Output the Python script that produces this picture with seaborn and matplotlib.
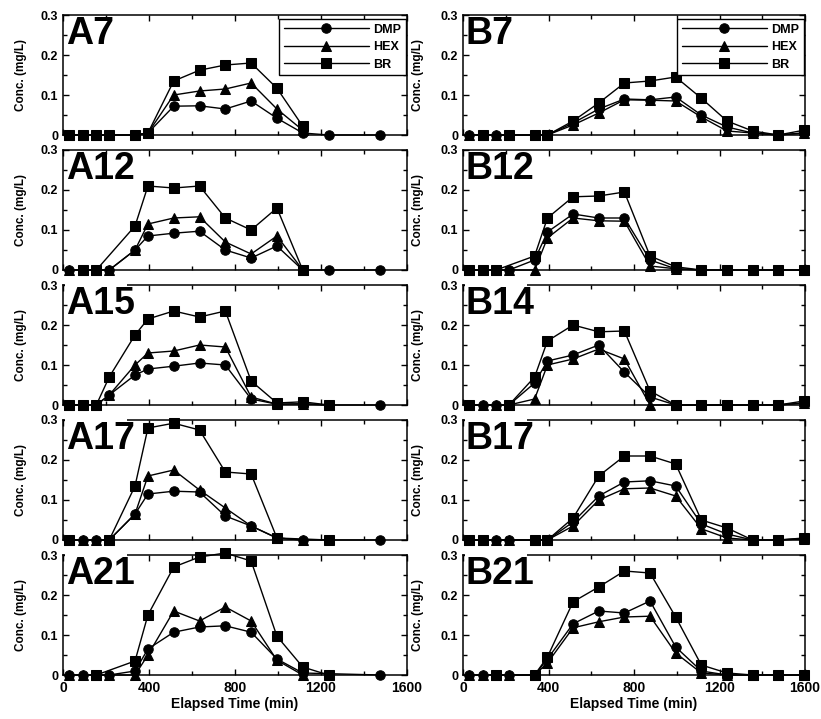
import numpy as np
import pandas as pd
import matplotlib
matplotlib.use('Agg')
import matplotlib.pyplot as plt
from matplotlib.ticker import MultipleLocator
from matplotlib.patches import Rectangle
import seaborn as sns

N = np.nan

# sampling times (min)
times = [30, 95, 155, 215, 335, 395, 515, 635, 755, 875, 995, 1115, 1235, 1355, 1475, 1595]
compounds = ['DMP', 'HEX', 'BR']
marker_of = {'DMP': 'o', 'HEX': '^', 'BR': 's'}

xticks = [0, 400, 800, 1200, 1600]
xtick_labels = ['0', '400', '800', '1200', '1600']
yticks = [0, 0.1, 0.2, 0.3]
ytick_labels = ['0', '0.1', '0.2', '0.3']

# column A
a7_dmp = [0, 0, 0, 0, 0, 0.005, 0.072, 0.073, 0.065, 0.085, 0.042, 0.005, 0, N, 0, N]
a7_hex = [0, 0, 0, 0, 0, 0.005, 0.100, 0.110, 0.115, 0.130, 0.065, 0.012, N, N, N, N]
a7_br = [0, 0, 0, 0, 0, 0.005, 0.135, 0.162, 0.175, 0.180, 0.117, 0.022, N, N, N, N]

a12_dmp = [0, 0, 0, 0, 0.050, 0.085, 0.092, 0.097, 0.050, 0.030, 0.060, 0, 0, N, 0, N]
a12_hex = [0, 0, 0, 0, 0.050, 0.115, 0.130, 0.133, 0.070, 0.040, 0.085, 0, N, N, N, N]
a12_br = [N, 0, 0, N, 0.110, 0.210, 0.205, 0.210, 0.130, 0.100, 0.155, 0, N, N, N, N]

a15_dmp = [0, 0, 0, 0.025, 0.075, 0.090, 0.097, 0.105, 0.100, 0.015, 0.002, 0.003, 0, N, 0, N]
a15_hex = [0, 0, 0, 0.025, 0.100, 0.130, 0.135, 0.150, 0.145, 0.020, 0.002, 0.003, 0, N, N, N]
a15_br = [0, 0, 0, 0.070, 0.175, 0.215, 0.235, 0.220, 0.235, 0.060, 0.005, 0.008, 0, N, N, N]

a17_dmp = [0, 0, 0, 0, 0.065, 0.115, 0.122, 0.120, 0.060, 0.035, 0.005, 0, N, N, 0, N]
a17_hex = [0, 0, 0, 0, 0.065, 0.160, 0.175, 0.125, 0.080, 0.035, 0.005, 0, N, N, N, N]
a17_br = [0, N, N, 0, 0.135, 0.280, 0.292, 0.275, 0.170, 0.165, 0.005, N, 0, N, N, N]

a21_dmp = [0, 0, 0, 0, 0.010, 0.065, 0.107, 0.120, 0.123, 0.107, 0.040, 0.005, N, N, 0, N]
a21_hex = [0, 0, 0, 0, 0, 0.050, 0.160, 0.135, 0.170, 0.135, 0.037, 0, N, N, N, N]
a21_br = [N, N, 0, N, 0.035, 0.150, 0.270, 0.295, 0.305, 0.285, 0.097, 0.020, 0, N, N, N]

# column B
b7_dmp = [0, 0, 0, 0, 0, 0, 0.030, 0.065, 0.090, 0.088, 0.095, 0.050, 0.020, 0.005, 0, 0.005]
b7_hex = [0, 0, 0, 0, 0, 0, 0.025, 0.055, 0.088, 0.087, 0.085, 0.045, 0.010, 0.005, 0, 0.005]
b7_br = [N, 0, N, 0, 0, 0, 0.035, 0.080, 0.130, 0.135, 0.145, 0.092, 0.035, 0.010, 0, 0.012]

b12_dmp = [0, 0, 0, 0, 0.025, 0.095, 0.140, 0.130, 0.130, 0.025, 0.003, 0, 0, 0, 0, 0]
b12_hex = [0, 0, 0, 0, 0, 0.080, 0.130, 0.123, 0.122, 0.010, 0.003, 0, 0, 0, 0, 0]
b12_br = [0, 0, 0, N, 0.035, 0.130, 0.183, 0.185, 0.195, 0.035, 0.008, 0, 0, 0, 0, 0]

b14_dmp = [0, 0, 0, 0, 0.055, 0.110, 0.125, 0.150, 0.082, 0.020, 0, 0, 0, 0, 0, 0.005]
b14_hex = [0, 0, 0, 0, 0.015, 0.100, 0.115, 0.140, 0.115, 0, 0, 0, 0, 0, 0, 0.005]
b14_br = [0, N, N, 0, 0.070, 0.160, 0.200, 0.183, 0.185, 0.035, 0, 0, 0, 0, 0, 0.010]

b17_dmp = [0, 0, 0, 0, 0, 0, 0.045, 0.110, 0.145, 0.148, 0.135, 0.040, 0.015, 0, 0, 0.003]
b17_hex = [0, 0, 0, 0, 0, 0, 0.035, 0.100, 0.128, 0.130, 0.110, 0.028, 0.005, 0, 0, 0.003]
b17_br = [0, 0, N, N, 0, 0, 0.055, 0.160, 0.210, 0.210, 0.190, 0.050, 0.030, 0, 0, 0.005]

b21_dmp = [0, 0, 0, 0, 0, 0.040, 0.128, 0.160, 0.155, 0.185, 0.070, 0.010, 0, 0, 0, 0]
b21_hex = [0, 0, 0, 0, 0, 0.030, 0.118, 0.133, 0.145, 0.147, 0.055, 0.005, 0, 0, 0, 0]
b21_br = [N, N, 0, N, 0, 0.045, 0.183, 0.220, 0.260, 0.255, 0.145, 0.025, 0.005, 0, 0, 0]

left_panels = [('A7', a7_dmp, a7_hex, a7_br), ('A12', a12_dmp, a12_hex, a12_br),
               ('A15', a15_dmp, a15_hex, a15_br), ('A17', a17_dmp, a17_hex, a17_br),
               ('A21', a21_dmp, a21_hex, a21_br)]
right_panels = [('B7', b7_dmp, b7_hex, b7_br), ('B12', b12_dmp, b12_hex, b12_br),
                ('B14', b14_dmp, b14_hex, b14_br), ('B17', b17_dmp, b17_hex, b17_br),
                ('B21', b21_dmp, b21_hex, b21_br)]

sns.set_style('ticks')
plt.rcParams['font.family'] = ['Liberation Sans', 'DejaVu Sans']
plt.rcParams['font.weight'] = 'bold'
plt.rcParams['axes.labelweight'] = 'bold'
plt.rcParams['axes.linewidth'] = 1.1
for k in ['text.color', 'axes.labelcolor', 'xtick.color', 'ytick.color',
          'axes.edgecolor', 'xtick.labelcolor', 'ytick.labelcolor']:
    plt.rcParams[k] = 'black'

W, H = 821, 719
fig = plt.figure(figsize=(W / 100, H / 100), dpi=100)

col_x = [(63, 344), (463, 342)]
label_x = [-0.105, -0.113]


def draw_panel(ax, name, dmp, hexv, br, col, row):
    df = pd.DataFrame({'t': times, 'DMP': dmp, 'HEX': hexv, 'BR': br})
    df = df.melt(id_vars='t', var_name='compound', value_name='conc').dropna()
    for z, c in enumerate(compounds):
        sub = df[df['compound'] == c]
        sns.lineplot(data=sub, x='t', y='conc', ax=ax, color='k', lw=1.0,
                     marker=marker_of[c], ms=6.8 if c != 'HEX' else 7.2, mec='k', mfc='k',
                     errorbar=None, label=c, zorder=3 + z)
    for ln in ax.lines:
        ln.set_clip_on(False)
    if ax.get_legend() is not None:
        ax.get_legend().remove()

    ax.set_xlim(0, 1600)
    ax.set_ylim(0, 0.3)
    ax.set_yticks(yticks)
    ax.set_yticklabels(ytick_labels)
    ax.set_xticks(xticks)
    ax.xaxis.set_minor_locator(MultipleLocator(200))
    ax.yaxis.set_minor_locator(MultipleLocator(0.05))
    ax.tick_params(which='both', direction='in', top=True, right=True, width=1.0, color='k')
    ax.tick_params(which='major', length=4.5)
    ax.tick_params(which='minor', length=3)
    ax.tick_params(axis='y', labelsize=9, pad=3.5)
    ax.tick_params(axis='x', labelsize=10, pad=4)
    for s in ax.spines.values():
        s.set_linewidth(1.1)
        s.set_color('k')

    ax.set_ylabel('Conc. (mg/L)', fontsize=8.5)
    ax.yaxis.set_label_coords(label_x[col], 0.5)
    if row == 4:
        ax.set_xticklabels(xtick_labels)
        ax.set_xlabel('Elapsed Time (min)', fontsize=10, labelpad=2)
    else:
        ax.set_xticklabels([])
        ax.set_xlabel('')

    if row >= 2:
        ax.add_patch(Rectangle((0.006, 0.9), 0.18, 0.14, transform=ax.transAxes,
                               facecolor='white', edgecolor='none', zorder=2.6, clip_on=False))
    ax.text(0.008, 0.99, name, transform=ax.transAxes, fontsize=27, fontweight='bold',
            ha='left', va='top', zorder=7, color='k')

    if row == 0:
        leg = ax.legend(loc='upper right', bbox_to_anchor=(0.997, 0.965), borderaxespad=0,
                        frameon=True, fancybox=False, edgecolor='k', framealpha=1,
                        fontsize=9, handlelength=6.8, handletextpad=0.4,
                        labelspacing=0.45, borderpad=0.35)
        leg.get_frame().set_linewidth(1.0)
        leg.set_zorder(8)


for col, panels in enumerate([left_panels, right_panels]):
    x0, w = col_x[col]
    for row, (name, dmp, hexv, br) in enumerate(panels):
        bottom = 135 + 135 * row
        ax = fig.add_axes([x0 / W, 1 - bottom / H, w / W, 120 / H])
        draw_panel(ax, name, dmp, hexv, br, col, row)

fig.savefig('out.png', dpi=100)
